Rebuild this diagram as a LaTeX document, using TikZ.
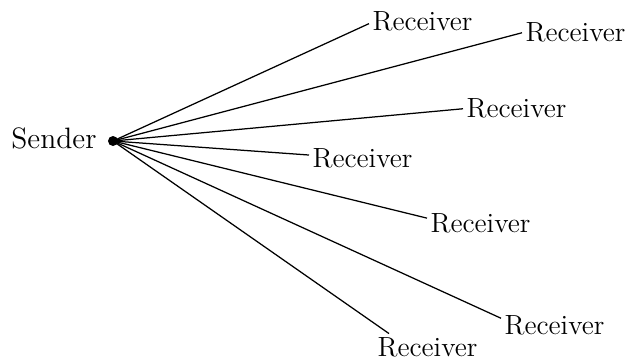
\documentclass[tikz,border=0pt]{standalone}
\usepackage{fontspec}
\begin{document}
\begin{tikzpicture}[x=0.4pt,y=-0.4pt,
  lbl/.style={font=\fontsize{11.1}{13}\selectfont, inner sep=1.2pt, anchor=base west},
  link/.style={line width=0.5pt}]
\useasboundingbox (0,0) rectangle (626,362);
% sender dot and label
\coordinate (s) at (113,141);
\fill (s) circle[radius=2pt];
\node[lbl, anchor=base east, font=\fontsize{11.8}{14}\selectfont] (snd) at (100,148) {Sender};
% receivers
\node[lbl] (r1) at (369,30)  {Receiver};
\node[lbl] (r2) at (522,41)  {Receiver};
\node[lbl] (r3) at (463,117) {Receiver};
\node[lbl] (r4) at (309,167) {Receiver};
\node[lbl] (r5) at (427,232) {Receiver};
\node[lbl] (r6) at (501,334) {Receiver};
\node[lbl] (r7) at (374,356) {Receiver};
% links
\draw[link] (s) -- (r1.183.4);
\draw[link] (s) -- (r2.181.4);
\draw[link] (s) -- (r3.181.5);
\draw[link] (s) -- (r4.177.6);
\draw[link] (s) -- (r5.175.5);
\draw[link] (s) -- (r6.173.5);
\draw[link] (s) -- (r7.161.3);
\end{tikzpicture}
\end{document}
